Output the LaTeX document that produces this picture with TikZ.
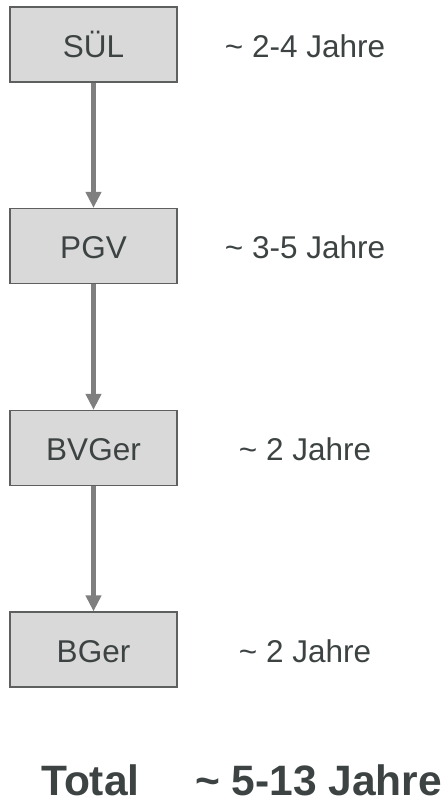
\documentclass[tikz,border=0pt]{standalone}
\usepackage{fontspec}
\setmainfont{Liberation Sans}
\usetikzlibrary{arrows.meta,positioning}
\definecolor{boxfill}{HTML}{D9D9D9}
\definecolor{boxline}{HTML}{5E6060}
\definecolor{txtgray}{HTML}{3D4343}
\definecolor{arrowgray}{HTML}{7F7F7F}

\begin{document}
\begin{tikzpicture}[x=1pt, y=1pt,
  stage/.style={draw=boxline, line width=1.2pt, fill=boxfill, minimum width=167pt, minimum height=75pt,
    inner sep=0pt, text height=30pt, text depth=4.5pt, text=txtgray, font=\fontsize{31.5}{36}\selectfont},
  dauer/.style={inner sep=0pt, text height=30pt, text depth=4.5pt, text=txtgray, font=\fontsize{31.5}{36}\selectfont},
  total/.style={inner sep=0pt, text height=31pt, text depth=0pt, anchor=base west, text=txtgray, font=\fontsize{42.5}{48}\selectfont\bfseries},
  flow/.style={draw=arrowgray, line width=5pt, -{Triangle[length=16pt, width=15pt]}}]
  \useasboundingbox (0,0) rectangle (446,-803);
  % Instances
  \node[stage] (sul)   at (93.5,-44.5) {SÜL};
  \node[stage] (pgv)   at (93.5,-246)  {PGV};
  \node[stage] (bvger) at (93.5,-448)  {BVGer};
  \node[stage] (bger)  at (93.5,-649.5) {BGer};
  % Arrows
  \draw[flow] (sul) -- (pgv);
  \draw[flow] (pgv) -- (bvger);
  \draw[flow] (bvger) -- (bger);
  % Durations
  \node[dauer] (dsul)   at (305,-44.5)  {\textasciitilde{} 2-4 Jahre};
  \node[dauer] (dpgv)   at (305,-246)   {\textasciitilde{} 3-5 Jahre};
  \node[dauer] (dbvger) at (305,-448)   {\textasciitilde{} 2 Jahre};
  \node[dauer] (dbger)  at (305,-649.5) {\textasciitilde{} 2 Jahre};
  % Sum
  \node[total] (tot)      at (41,-795)  {Total};
  \node[total] (totdauer) at (195,-795) {\textasciitilde{} 5-13 Jahre};
\end{tikzpicture}
\end{document}
